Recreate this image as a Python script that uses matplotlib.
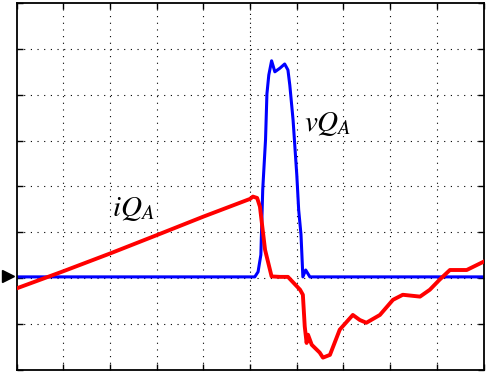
import matplotlib.pyplot as plt
import matplotlib.transforms as mtransforms
import numpy as np

# scope traces, read in screen divisions (10 x 8 grid, centre = 0)
t_vq = [0.0, 5.10, 5.17, 5.23, 5.27, 5.33, 5.36, 5.40, 5.46, 5.53, 5.64, 5.74,
        5.81, 5.85, 5.92, 6.00, 6.04, 6.09, 6.13, 6.19, 6.28, 10.0]
vq = [-1.97, -1.97, -1.86, -1.49, -0.07, 1.02, 2.02, 2.43, 2.74, 2.50, 2.58, 2.67,
      2.54, 2.21, 1.45, 0.25, -0.51, -1.05, -1.97, -1.82, -1.97, -1.97]

t_iq = [0.0, 0.99, 2.0, 3.0, 3.99, 5.0, 5.06, 5.15, 5.21, 5.32, 5.46, 5.64, 5.81,
        6.07, 6.13, 6.17, 6.21, 6.24, 6.32, 6.49, 6.56, 6.71, 6.92, 7.20, 7.35,
        7.49, 7.78, 8.06, 8.27, 8.64, 8.85, 9.06, 9.28, 9.64, 10.0]
iq = [-2.22, -1.85, -1.46, -1.06, -0.66, -0.27, -0.22, -0.25, -0.44, -1.38, -1.96,
      -1.97, -1.97, -2.25, -2.36, -3.05, -3.41, -3.23, -3.45, -3.62, -3.73, -3.67,
      -3.12, -2.80, -2.91, -2.97, -2.80, -2.47, -2.36, -2.40, -2.25, -2.03, -1.82,
      -1.82, -1.64]

ground = -1.95

plt.rcParams['mathtext.fontset'] = 'stix'

fig = plt.figure(figsize=(4.89, 3.73), dpi=100)
ax = fig.add_axes([0.0342, 0.008, 0.9546, 0.984])

ax.set_xlim(0, 10)
ax.set_ylim(-4, 4)
ax.set_xticks(np.arange(0, 11, 1))
ax.set_yticks(np.arange(-4, 5, 1))
ax.set_xticklabels([])
ax.set_yticklabels([])
ax.tick_params(direction='in', length=4, width=1, top=True, right=True)
for s in ax.spines.values():
    s.set_linewidth(1.3)

for k in range(1, 10):
    ls = (0, (1, 3)) if k == 5 else (0, (1, 5))
    ax.axvline(k, color='k', lw=0.8, ls=ls, zorder=0)
for k in range(-3, 4):
    ax.axhline(k, color='k', lw=0.8, ls=(0, (1, 5)), zorder=0)

ax.plot(t_vq, vq, color='#0000ff', lw=2.2, zorder=2)
ax.plot(t_iq, iq, color='#ff0000', lw=2.8, zorder=3)

ax.text(2.05, -0.64, r'$iQ_A$', fontsize=21, zorder=4)
ax.text(6.15, 1.21, r'$vQ_A$', fontsize=21, zorder=4)

# ground marker on the left edge
trans = mtransforms.blended_transform_factory(ax.transAxes, ax.transData)
ax.plot([-0.018], [ground], marker='>', ms=9, color='k', transform=trans,
        clip_on=False)

fig.savefig('out.png', dpi=100)
